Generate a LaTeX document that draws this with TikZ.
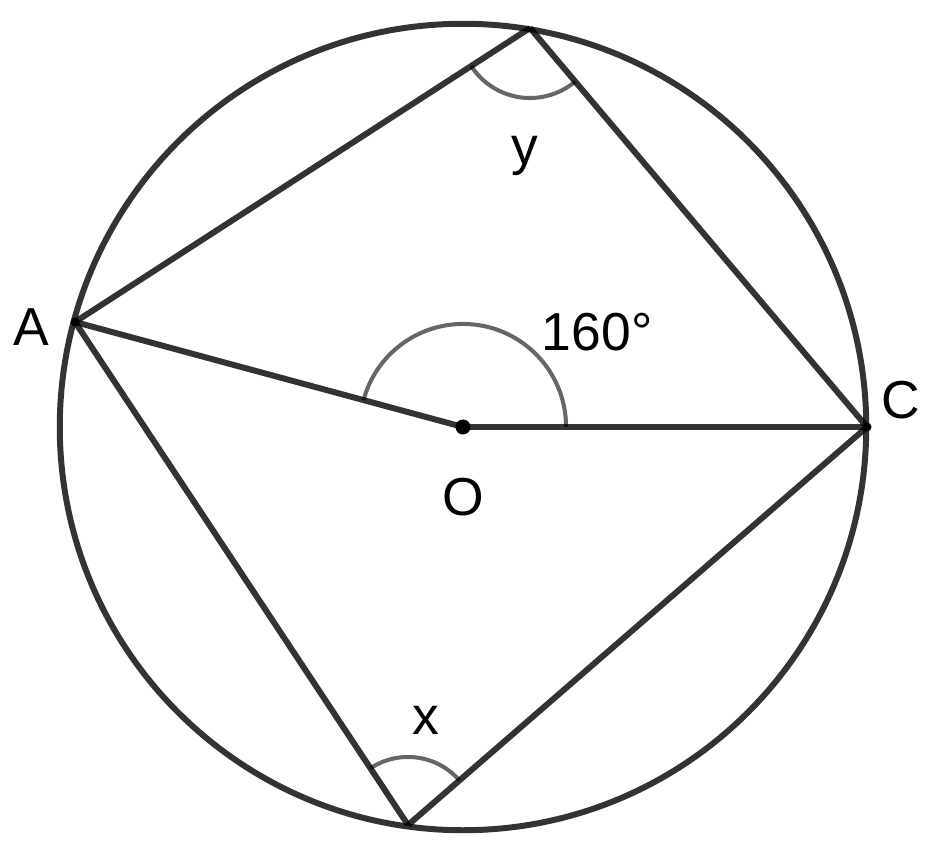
\documentclass[tikz,border=0pt]{standalone}
\usepackage{fontspec}
\setmainfont{Liberation Sans}
\usetikzlibrary{positioning,angles}
\tikzstyle{side}=[line width=1.7pt,draw=black,draw opacity=0.8]
\tikzstyle{vertex}=[circle,fill=black,inner sep=0pt,minimum size=0.09cm]
\tikzstyle{centre}=[vertex,minimum size=0.15cm]
\tikzstyle{anglemark}=[draw=black,draw opacity=0.6,line width=1.15pt]
\tikzstyle{txt}=[inner sep=0pt,font=\fontsize{15.2}{18}\selectfont]

\begin{document}
\begin{tikzpicture}[x=0.01cm,y=-0.01cm]
            \useasboundingbox (0,0) rectangle (928,849);
            \node (O) [centre] at (463,427) {};
            \node (A) [vertex] at (75,322) {};
            \node (C) [vertex] at (867,427) {};
            \coordinate (B) at (530,28);
            \coordinate (D) at (408,825);
            
            \draw[side] (O.center) circle[radius=4.03cm];
            
            \draw[side] (A.center) -- (B);
            \draw[side] (B) -- (C.center);
            \draw[side] (A.center) -- (D);
            \draw[side] (D) -- (C.center);
            \draw[side] (O.center) -- (A.center);
            \draw[side] (O.center) -- (C.center);
            
            \pic[anglemark, angle radius=1.03cm] {angle=C--O--A};
            \pic[anglemark, angle radius=0.70cm] {angle=A--B--C};
            \pic[anglemark, angle radius=0.68cm] {angle=C--D--A};
            
            \node (lA) [txt, left=0.2cm of A, yshift=-1.5pt] {A};
            \node (lC) [txt, right=0.09cm of C, yshift=0.27cm] {C};
            \node (lO) [txt, below=0.42cm of O] {O};
            \node (lang) [txt, right=0.7cm of O, yshift=0.95cm] {160°};
            \node (ly) [txt, below=1.07cm of B, xshift=-0.055cm] {y};
            \node (lx) [txt, above=0.9cm of D, xshift=0.18cm] {x};
\end{tikzpicture}
\end{document}
